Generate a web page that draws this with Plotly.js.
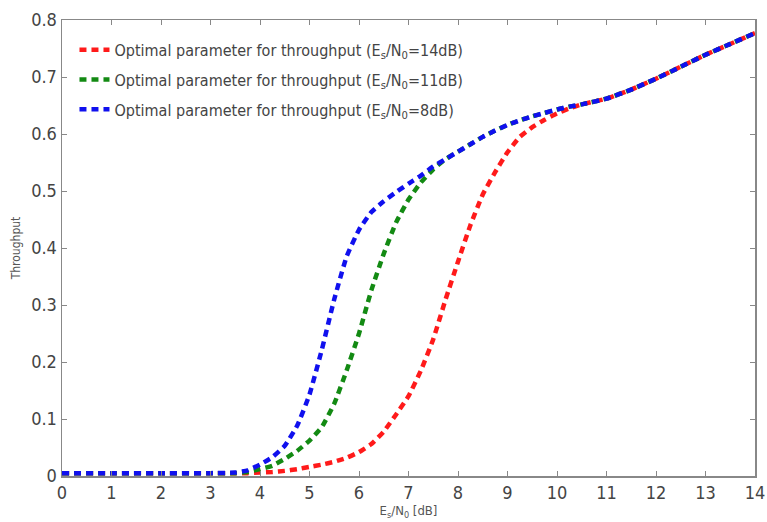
<!DOCTYPE html>
<html>
<head>
<meta charset="utf-8">
<script src="https://cdn.plot.ly/plotly-3.0.1.min.js"></script>
<style>html,body{margin:0;padding:0;background:#fff;}#chart{width:767px;height:522px;}</style>
</head>
<body>
<div id="chart"></div>
<script>
const xs = [0,1,2,3,3.5,3.75,4,4.25,4.5,4.75,5,5.25,5.5,5.75,6,6.25,6.5,6.75,7,7.25,7.5,7.75,8,8.25,8.5,8.75,9,9.25,9.5,9.75,10,10.25,10.5,11,11.5,12,12.5,13,13.5,14];
const blue  = [0.005,0.005,0.005,0.005,0.006,0.010,0.020,0.033,0.053,0.088,0.143,0.222,0.310,0.385,0.432,0.463,0.482,0.498,0.513,0.527,0.543,0.556,0.569,0.582,0.595,0.606,0.616,0.624,0.631,0.637,0.643,0.648,0.652,0.662,0.678,0.697,0.718,0.739,0.758,0.777];
const green = [0.005,0.005,0.005,0.005,0.005,0.007,0.012,0.018,0.030,0.044,0.062,0.086,0.127,0.185,0.250,0.326,0.390,0.445,0.485,0.515,0.538,0.556,0.569,0.582,0.595,0.606,0.616,0.624,0.631,0.637,0.643,0.648,0.652,0.662,0.678,0.697,0.718,0.739,0.758,0.777];
const red   = [0.005,0.005,0.005,0.005,0.005,0.005,0.006,0.007,0.009,0.012,0.016,0.020,0.025,0.032,0.042,0.056,0.078,0.108,0.140,0.185,0.240,0.310,0.376,0.440,0.494,0.533,0.568,0.595,0.612,0.625,0.636,0.645,0.652,0.662,0.678,0.697,0.718,0.739,0.758,0.777];
const names = [
  'Optimal parameter for throughput (E<sub>s</sub>/N<sub>0</sub>=14dB)',
  'Optimal parameter for throughput (E<sub>s</sub>/N<sub>0</sub>=11dB)',
  'Optimal parameter for throughput (E<sub>s</sub>/N<sub>0</sub>=8dB)'
];
const xTicks = [0,1,2,3,4,5,6,7,8,9,10,11,12,13,14];
const yTicks = [0,0.1,0.2,0.3,0.4,0.5,0.6,0.7,0.8];
const yTickText = ['0','0.1','0.2','0.3','0.4','0.5','0.6','0.7','0.8'];

const FONT = '"Liberation Sans Narrow", "DejaVu Sans Condensed", "Liberation Sans", Arial, sans-serif';
function tr(y, color, name, g) {
  return {x: xs, y: y, name: name, type: 'scatter', mode: 'lines', legendgroup: g,
    line: {color: color, width: 4.5, dash: '7px,5px', shape: 'spline', smoothing: 0.4}};
}
const data = [tr(red,'#ff1a1a',names[0],'a'), tr(green,'#138a13',names[1],'b'), tr(blue,'#1010ee',names[2],'c')];
const axisCommon = {showline: true, mirror: 'ticks', linecolor: '#888', linewidth: 1.5, ticks: 'inside',
  ticklen: 5, tickcolor: '#888', showgrid: false, zeroline: false,
  tickfont: {family: FONT, size: 18, color: '#444'}};
const layout = {
  width: 767, height: 522,
  margin: {l: 62, r: 12, t: 20, b: 46},
  paper_bgcolor: '#fff', plot_bgcolor: '#fff',
  font: {family: FONT, color: '#444'},
  showlegend: true,
  legend: {x: 0.018, y: 0.972, xanchor: 'left', yanchor: 'top', bgcolor: 'rgba(255,255,255,0)',
    font: {family: FONT, size: 16, color: '#444'}, tracegroupgap: 6, itemwidth: 30},
  xaxis: Object.assign({}, axisCommon, {range: [0, 14], tickvals: xTicks,
    title: {text: 'E<sub>s</sub>/N<sub>0</sub> [dB]', font: {family: FONT, size: 13, color: '#555'}, standoff: 2}}),
  yaxis: Object.assign({}, axisCommon, {range: [0, 0.8], tickvals: yTicks, ticktext: yTickText,
    title: {text: 'Throughput', font: {family: FONT, size: 12, color: '#555'}, standoff: 8}})
};
Plotly.newPlot('chart', data, layout, {displayModeBar: false, staticPlot: true});
</script>
</body>
</html>
